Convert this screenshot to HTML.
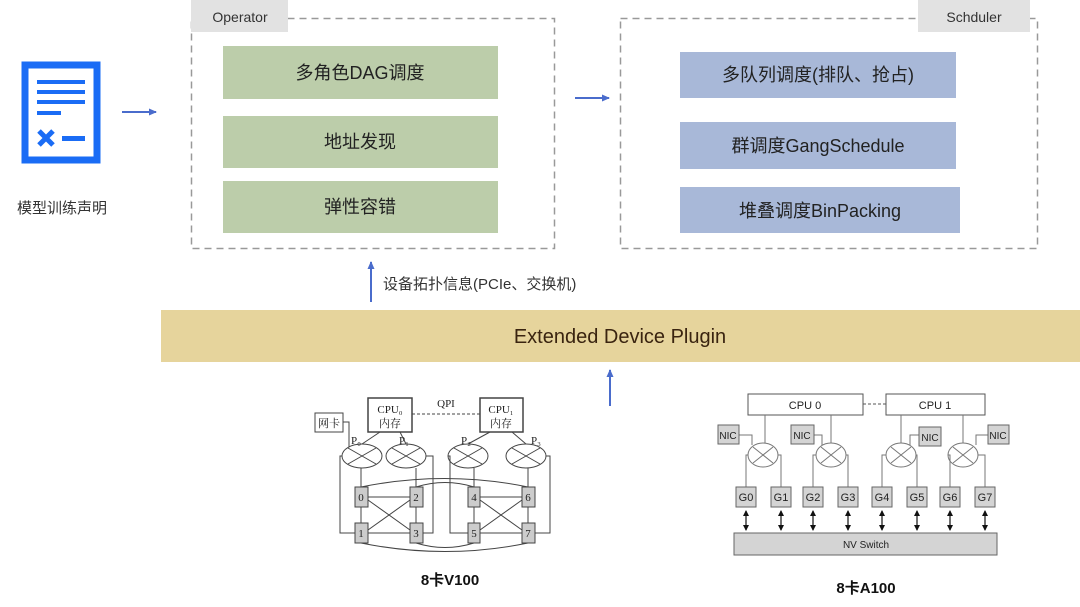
<!DOCTYPE html>
<html><head><meta charset="utf-8">
<style>
html,body{margin:0;padding:0;background:#fff;}
svg{display:block;}
.cn{font-family:"Liberation Sans","Noto Sans CJK SC",sans-serif;}
.se{font-family:"Liberation Serif","Noto Serif CJK SC",serif;}
</style></head>
<body>
<svg width="1080" height="607" viewBox="0 0 1080 607" xmlns="http://www.w3.org/2000/svg" class="cn">
<defs>
<marker id="ab" markerWidth="8" markerHeight="8" refX="7" refY="4" orient="auto" markerUnits="userSpaceOnUse"><path d="M0,0.5 L8,4 L0,7.5 Z" fill="#4a6ccc"/></marker>
<marker id="ak" markerWidth="6" markerHeight="6" refX="5" refY="3" orient="auto-start-reverse" markerUnits="userSpaceOnUse"><path d="M0,0 L6,3 L0,6 Z" fill="#111"/></marker>
</defs>

<!-- doc icon -->
<rect x="25" y="65" width="72" height="95" fill="none" stroke="#1a6cf5" stroke-width="7"/>
<rect x="37" y="80" width="48" height="4" fill="#1a6cf5"/>
<rect x="37" y="90" width="48" height="4" fill="#1a6cf5"/>
<rect x="37" y="100" width="48" height="4" fill="#1a6cf5"/>
<rect x="37" y="111" width="24" height="4" fill="#1a6cf5"/>
<path d="M39,131 L53,145 M53,131 L39,145" stroke="#1a6cf5" stroke-width="5"/>
<rect x="62" y="136" width="23" height="5" fill="#1a6cf5"/>
<text x="62" y="213" font-size="15" fill="#333" text-anchor="middle">模型训练声明</text>
<line x1="122" y1="112" x2="156" y2="112" stroke="#4a6ccc" stroke-width="2" marker-end="url(#ab)"/>

<!-- Operator -->
<rect x="191.5" y="18.5" width="363" height="230" fill="none" stroke="#999" stroke-width="1.5" stroke-dasharray="7,5"/>
<rect x="191" y="0" width="97" height="32" fill="#e2e2e2"/>
<text x="240" y="22" font-size="14" fill="#333" text-anchor="middle">Operator</text>
<rect x="223" y="46" width="275" height="53" fill="#bccdaa"/>
<text x="360" y="79" font-size="18" fill="#222" text-anchor="middle">多角色DAG调度</text>
<rect x="223" y="116" width="275" height="52" fill="#bccdaa"/>
<text x="360" y="148" font-size="18" fill="#222" text-anchor="middle">地址发现</text>
<rect x="223" y="181" width="275" height="52" fill="#bccdaa"/>
<text x="360" y="213" font-size="18" fill="#222" text-anchor="middle">弹性容错</text>

<line x1="575" y1="98" x2="609" y2="98" stroke="#4a6ccc" stroke-width="2" marker-end="url(#ab)"/>

<!-- Scheduler -->
<rect x="620.5" y="18.5" width="417" height="230" fill="none" stroke="#999" stroke-width="1.5" stroke-dasharray="7,5"/>
<rect x="918" y="0" width="112" height="32" fill="#e2e2e2"/>
<text x="974" y="22" font-size="14" fill="#333" text-anchor="middle">Schduler</text>
<rect x="680" y="52" width="276" height="46" fill="#a8b8d8"/>
<text x="818" y="81" font-size="18" fill="#222" text-anchor="middle">多队列调度(排队、抢占)</text>
<rect x="680" y="122" width="276" height="47" fill="#a8b8d8"/>
<text x="818" y="152" font-size="18" fill="#222" text-anchor="middle">群调度GangSchedule</text>
<rect x="680" y="187" width="280" height="46" fill="#a8b8d8"/>
<text x="820" y="217" font-size="18" fill="#222" text-anchor="middle">堆叠调度BinPacking</text>

<!-- topo arrow -->
<line x1="371" y1="302" x2="371" y2="262" stroke="#4a6ccc" stroke-width="2" marker-end="url(#ab)"/>
<text x="383" y="289" font-size="15" fill="#333">设备拓扑信息(PCIe、交换机)</text>

<!-- plugin bar -->
<rect x="161" y="310" width="919" height="52" fill="#e6d49c"/>
<text x="620" y="343" font-size="20" fill="#3a2410" text-anchor="middle">Extended Device Plugin</text>
<line x1="610" y1="406" x2="610" y2="370" stroke="#4a6ccc" stroke-width="2" marker-end="url(#ab)"/>

<!-- V100 -->
<g stroke="#444" stroke-width="1" fill="none">
<rect x="315" y="413" width="28" height="19" fill="#fff"/>
<rect x="368" y="398" width="44" height="34" fill="#fff" stroke-width="1.5"/>
<rect x="480" y="398" width="43" height="34" fill="#fff" stroke-width="1.5"/>
<line x1="412" y1="414" x2="480" y2="414" stroke-dasharray="3,2"/>
<polyline points="343,422 349,422 349,450"/>
<line x1="380" y1="432" x2="362" y2="444"/><line x1="400" y1="432" x2="406" y2="444"/>
<line x1="490" y1="432" x2="468" y2="444"/><line x1="512" y1="432" x2="526" y2="444"/>
<ellipse cx="362" cy="456" rx="20" ry="12" fill="#fff"/>
<ellipse cx="406" cy="456" rx="20" ry="12" fill="#fff"/>
<ellipse cx="468" cy="456" rx="20" ry="12" fill="#fff"/>
<ellipse cx="526" cy="456" rx="20" ry="12" fill="#fff"/>
<path d="M348,448 L376,464 M376,448 L348,464 M392,448 L420,464 M420,448 L392,464 M454,448 L482,464 M482,448 L454,464 M512,448 L540,464 M540,448 L512,464"/>
<line x1="361" y1="468" x2="361" y2="487"/><line x1="416" y1="468" x2="416" y2="487"/>
<line x1="474" y1="468" x2="474" y2="487"/><line x1="528" y1="468" x2="528" y2="487"/>
<line x1="361" y1="507" x2="361" y2="523"/><line x1="416" y1="507" x2="416" y2="523"/>
<line x1="474" y1="507" x2="474" y2="523"/><line x1="528" y1="507" x2="528" y2="523"/>
<polyline points="342,456 340,456 340,533 355,533"/>
<polyline points="426,456 433,456 433,533 423,533"/>
<polyline points="448,456 450,456 450,533 468,533"/>
<polyline points="546,456 550,456 550,533 535,533"/>
<line x1="368" y1="497" x2="410" y2="497"/><line x1="368" y1="533" x2="410" y2="533"/>
<line x1="480" y1="497" x2="522" y2="497"/><line x1="480" y1="533" x2="522" y2="533"/>
<line x1="368" y1="500" x2="410" y2="530"/><line x1="368" y1="530" x2="410" y2="500"/>
<line x1="480" y1="500" x2="522" y2="530"/><line x1="480" y1="530" x2="522" y2="500"/>
<path d="M361,487 Q445,470 528,487"/>
<path d="M416,487 Q445,478 474,487"/>
<path d="M361,543 Q445,560 528,543"/>
<path d="M416,543 Q445,552 474,543"/>
<g fill="#ccc"><rect x="355" y="487" width="13" height="20"/><rect x="410" y="487" width="13" height="20"/><rect x="468" y="487" width="12" height="20"/><rect x="522" y="487" width="13" height="20"/>
<rect x="355" y="523" width="13" height="20"/><rect x="410" y="523" width="13" height="20"/><rect x="468" y="523" width="12" height="20"/><rect x="522" y="523" width="13" height="20"/></g>
</g>
<g class="se" font-size="11" fill="#222" text-anchor="middle">
<text x="329" y="427">网卡</text>
<text x="390" y="413">CPU₀</text><text x="390" y="427">内存</text>
<text x="501" y="413">CPU₁</text><text x="501" y="427">内存</text>
<text x="446" y="407">QPI</text>
<text x="356" y="444">P₀</text><text x="404" y="444">P₁</text>
<text x="466" y="444">P₂</text><text x="536" y="444">P₃</text>
<text x="361" y="501">0</text><text x="416" y="501">2</text><text x="474" y="501">4</text><text x="528" y="501">6</text>
<text x="361" y="537">1</text><text x="416" y="537">3</text><text x="474" y="537">5</text><text x="528" y="537">7</text>
</g>
<text x="450" y="585" font-size="15" font-weight="bold" fill="#111" text-anchor="middle">8卡V100</text>

<!-- A100 -->
<g stroke="#777" stroke-width="1" fill="none">
<rect x="748" y="394" width="115" height="21" fill="#fff" stroke="#555"/>
<rect x="886" y="394" width="99" height="21" fill="#fff" stroke="#555"/>
<line x1="863" y1="404" x2="886" y2="404" stroke="#555" stroke-dasharray="3,2"/>
<line x1="765" y1="415" x2="765" y2="443"/><line x1="831" y1="415" x2="831" y2="443"/>
<line x1="901" y1="415" x2="901" y2="443"/><line x1="963" y1="415" x2="963" y2="443"/>
<polyline points="739,435 752,435 752,445"/><polyline points="814,435 822,435 822,445"/>
<polyline points="919,435 910,435 910,445"/><polyline points="988,435 976,435 976,445"/>
<ellipse cx="763" cy="455" rx="15" ry="12" fill="#fff"/>
<ellipse cx="831" cy="455" rx="15" ry="12" fill="#fff"/>
<ellipse cx="901" cy="455" rx="15" ry="12" fill="#fff"/>
<ellipse cx="963" cy="455" rx="15" ry="12" fill="#fff"/>
<path d="M753,447 L773,463 M773,447 L753,463 M821,447 L841,463 M841,447 L821,463 M891,447 L911,463 M911,447 L891,463 M953,447 L973,463 M973,447 L953,463"/>
<polyline points="748,455 746,455 746,487"/><polyline points="778,455 781,455 781,487"/>
<polyline points="816,455 813,455 813,487"/><polyline points="846,455 848,455 848,487"/>
<polyline points="886,455 882,455 882,487"/><polyline points="916,455 917,455 917,487"/>
<polyline points="948,455 950,455 950,487"/><polyline points="978,455 985,455 985,487"/>
<g fill="#d4d4d4" stroke="#666">
<rect x="718" y="425" width="21" height="19"/><rect x="791" y="425" width="23" height="19"/>
<rect x="919" y="427" width="22" height="19"/><rect x="988" y="425" width="21" height="19"/>
<rect x="736" y="487" width="20" height="20"/><rect x="771" y="487" width="20" height="20"/><rect x="803" y="487" width="20" height="20"/><rect x="838" y="487" width="20" height="20"/>
<rect x="872" y="487" width="20" height="20"/><rect x="907" y="487" width="20" height="20"/><rect x="940" y="487" width="20" height="20"/><rect x="975" y="487" width="20" height="20"/>
<rect x="734" y="533" width="263" height="22"/>
</g>
<g stroke="#111" stroke-width="1.2">
<line x1="746" y1="511" x2="746" y2="530" marker-start="url(#ak)" marker-end="url(#ak)"/>
<line x1="781" y1="511" x2="781" y2="530" marker-start="url(#ak)" marker-end="url(#ak)"/>
<line x1="813" y1="511" x2="813" y2="530" marker-start="url(#ak)" marker-end="url(#ak)"/>
<line x1="848" y1="511" x2="848" y2="530" marker-start="url(#ak)" marker-end="url(#ak)"/>
<line x1="882" y1="511" x2="882" y2="530" marker-start="url(#ak)" marker-end="url(#ak)"/>
<line x1="917" y1="511" x2="917" y2="530" marker-start="url(#ak)" marker-end="url(#ak)"/>
<line x1="950" y1="511" x2="950" y2="530" marker-start="url(#ak)" marker-end="url(#ak)"/>
<line x1="985" y1="511" x2="985" y2="530" marker-start="url(#ak)" marker-end="url(#ak)"/>
</g>
</g>
<g font-size="11" fill="#222" text-anchor="middle">
<text x="805" y="409">CPU 0</text><text x="935" y="409">CPU 1</text>
<text x="728" y="439" font-size="10">NIC</text><text x="802" y="439" font-size="10">NIC</text>
<text x="930" y="441" font-size="10">NIC</text><text x="998" y="439" font-size="10">NIC</text>
<text x="746" y="501">G0</text><text x="781" y="501">G1</text><text x="813" y="501">G2</text><text x="848" y="501">G3</text>
<text x="882" y="501">G4</text><text x="917" y="501">G5</text><text x="950" y="501">G6</text><text x="985" y="501">G7</text>
<text x="866" y="548" font-size="10">NV Switch</text>
</g>
<text x="866" y="593" font-size="15" font-weight="bold" fill="#111" text-anchor="middle">8卡A100</text>
</svg>
</body></html>
